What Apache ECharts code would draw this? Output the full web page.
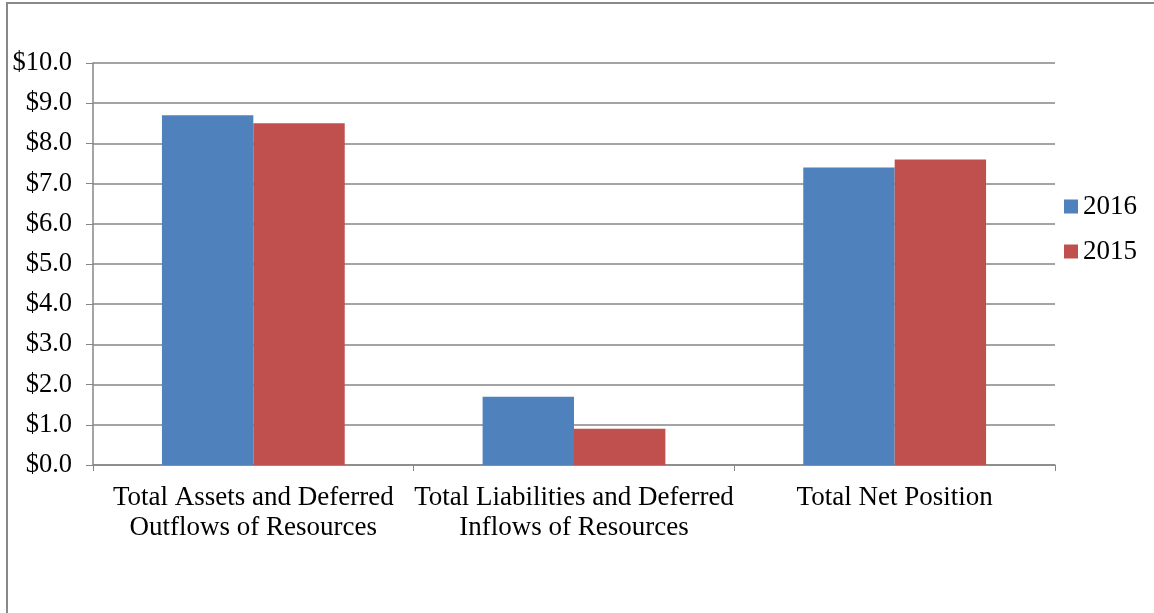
<!DOCTYPE html>
<html><head><meta charset="utf-8">
<script src="https://cdn.jsdelivr.net/npm/echarts@6/dist/echarts.min.js"></script>
<style>html,body{margin:0;padding:0;background:#fff}#c{width:1154px;height:613px}</style>
</head><body><div id="c"></div>
<script>
const categories = ["Total Assets and Deferred\nOutflows of Resources", "Total Liabilities and Deferred\nInflows of Resources", "Total Net Position"];
const series2016 = [8.7, 1.7, 7.4];
const series2015 = [8.5, 0.9, 7.6];
const seriesNames = ["2016", "2015"];
const chart = echarts.init(document.getElementById('c'));
const font = '"Liberation Serif", "Times New Roman", serif';
chart.setOption({
  animation: false,
  backgroundColor: '#fff',
  graphic: [{type:'rect', shape:{x:7,y:3,width:1200,height:700}, style:{fill:'none', stroke:'#898989', lineWidth:2}, silent:true}],
  grid: {left: 93, right: 99, top: 63, bottom: 148},
  legend: {
    orient: 'vertical', left: 1059, top: 188, itemWidth: 14, itemHeight: 14, itemGap: 18,
    icon: 'rect',
    textStyle: {fontFamily: font, fontSize: 27, color: '#000', lineHeight: 27},
    data: seriesNames
  },
  xAxis: {
    type: 'category', data: categories,
    axisLine: {lineStyle: {color: '#868686', width: 1.5}},
    axisTick: {show: true, interval: 0, length: 6, lineStyle: {color: '#868686'}},
    axisLabel: {interval: 0, fontFamily: font, fontSize: 27, color: '#000', lineHeight: 30, margin: 18}
  },
  yAxis: {
    type: 'value', min: 0, max: 10, interval: 1,
    axisLine: {show: true, lineStyle: {color: '#868686', width: 1.5}},
    axisTick: {show: true, length: 7, lineStyle: {color: '#868686'}},
    splitLine: {lineStyle: {color: '#868686', width: 1.5}},
    axisLabel: {fontFamily: font, fontSize: 26.5, color: '#000', margin: 21, formatter: v => '$' + v.toFixed(1)}
  },
  series: [
    {name: seriesNames[0], type: 'bar', data: series2016, barGap: '0%', barCategoryGap: '43%', itemStyle: {color: '#4F81BD'}},
    {name: seriesNames[1], type: 'bar', data: series2015, barGap: '0%', barCategoryGap: '43%', itemStyle: {color: '#C0504D'}}
  ]
});
</script></body></html>
